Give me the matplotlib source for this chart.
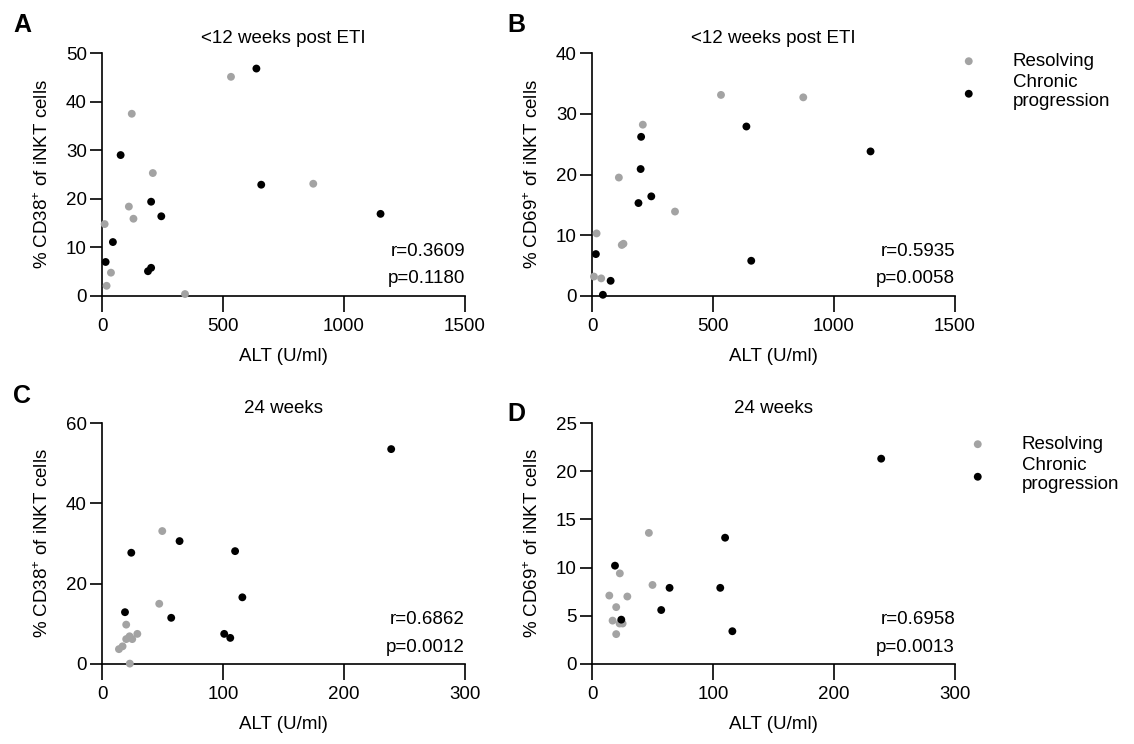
import numpy as np
import matplotlib.pyplot as plt

plt.rcParams['font.family'] = ['Liberation Sans', 'DejaVu Sans']
plt.rcParams['mathtext.fontset'] = 'custom'
plt.rcParams['mathtext.rm'] = 'Liberation Sans'
plt.rcParams['mathtext.it'] = 'Liberation Sans:italic'
plt.rcParams['mathtext.bf'] = 'Liberation Sans:bold'

# data
# <12 weeks post ETI
a_res_x = [533, 123, 210, 873, 111, 130, 11, 37, 19, 343]
a_res_y = [45.1, 37.5, 25.3, 23.1, 18.4, 15.9, 14.8, 4.8, 2.1, 0.4]
a_chr_x = [638, 77, 658, 203, 245, 1151, 45, 15, 203, 190]
a_chr_y = [46.8, 29.0, 22.9, 19.4, 16.4, 16.9, 11.1, 7.0, 5.8, 5.1]

b_res_x = [533, 873, 210, 111, 343, 19, 123, 130, 8, 38]
b_res_y = [33.1, 32.7, 28.2, 19.5, 13.9, 10.3, 8.4, 8.6, 3.2, 2.9]
b_chr_x = [638, 203, 201, 245, 192, 1151, 16, 658, 77, 45]
b_chr_y = [27.9, 26.2, 20.9, 16.4, 15.3, 23.8, 6.9, 5.8, 2.5, 0.2]

# 24 weeks
c_res_x = [49.8, 47.3, 20, 29.2, 25, 20, 22.8, 17, 14, 23]
c_res_y = [33.1, 15.0, 9.8, 7.5, 6.2, 6.2, 6.9, 4.4, 3.7, 0.1]
c_chr_x = [239, 24.2, 64.1, 110, 116, 19, 57.2, 101, 106]
c_chr_y = [53.5, 27.7, 30.6, 28.1, 16.6, 12.9, 11.5, 7.5, 6.5]

d_res_x = [47, 23, 50, 14.3, 29.2, 20, 17, 22.8, 25.3, 20]
d_res_y = [13.6, 9.4, 8.2, 7.1, 7.0, 5.9, 4.5, 4.2, 4.2, 3.1]
d_chr_x = [239, 110, 19, 64.1, 106, 57.2, 24.2, 116]
d_chr_y = [21.3, 13.1, 10.2, 7.9, 7.9, 5.6, 4.6, 3.4]

r_text = ['r=0.3609', 'r=0.5935', 'r=0.6862', 'r=0.6958']
p_text = ['p=0.1180', 'p=0.0058', 'p=0.0012', 'p=0.0013']
titles = ['<12 weeks post ETI', '<12 weeks post ETI', '24 weeks', '24 weeks']
ylabels = ['% CD38$^{+}$ of iNKT cells', '% CD69$^{+}$ of iNKT cells',
           '% CD38$^{+}$ of iNKT cells', '% CD69$^{+}$ of iNKT cells']
letters = ['A', 'B', 'C', 'D']
xlims = [1500, 1500, 300, 300]
ylims = [50, 40, 60, 25]
ysteps = [10, 10, 20, 5]
xsteps = [500, 500, 100, 100]

gray = '#a3a3a3'
fs = 13.5

fig = plt.figure(figsize=(11.34, 7.44), dpi=100)
W, H = 1134, 744
boxes = [(102, 53, 465, 296), (592, 53, 955, 296),
         (102, 423, 465, 664), (592, 423, 955, 664)]
letter_pos = [(13, 13), (507, 13), (13, 384), (507, 402)]
axes = []
for (l, t, r, b) in boxes:
    axes.append(fig.add_axes([l / W, 1 - b / H, (r - l) / W, (b - t) / H]))

series = [(a_res_x, a_res_y, a_chr_x, a_chr_y),
          (b_res_x, b_res_y, b_chr_x, b_chr_y),
          (c_res_x, c_res_y, c_chr_x, c_chr_y),
          (d_res_x, d_res_y, d_chr_x, d_chr_y)]

for i, ax in enumerate(axes):
    rx, ry, cx, cy = series[i]
    ax.scatter(rx, ry, s=32, color=gray, edgecolors='none', clip_on=False,
               zorder=3, label='Resolving')
    ax.scatter(cx, cy, s=32, color='black', edgecolors='none', clip_on=False,
               zorder=3, label='Chronic\nprogression')
    ax.set_xlim(0, xlims[i])
    ax.set_ylim(0, ylims[i])
    ax.set_xticks(np.arange(0, xlims[i] + 1, xsteps[i]))
    ax.set_yticks(np.arange(0, ylims[i] + 1, ysteps[i]))
    for s in ['top', 'right']:
        ax.spines[s].set_visible(False)
    for s in ['left', 'bottom']:
        ax.spines[s].set_linewidth(1.2)
    ax.tick_params(axis='x', length=11.5, width=1.2, labelsize=fs, pad=4)
    ax.tick_params(axis='y', length=9, width=1.2, labelsize=fs, pad=2)
    ax.set_xlabel('ALT (U/ml)', fontsize=fs, labelpad=10)
    ax.set_ylabel(ylabels[i], fontsize=fs, labelpad=10)
    ax.set_title(titles[i], fontsize=fs, pad=7)
    ax.text(1.0, 0.185, r_text[i], transform=ax.transAxes,
            ha='right', va='center', fontsize=fs)
    ax.text(1.0, 0.07, p_text[i], transform=ax.transAxes,
            ha='right', va='center', fontsize=fs)

for (lx, ly), letter in zip(letter_pos, letters):
    fig.text(lx / W, 1 - ly / H, letter, fontsize=18, fontweight='bold',
             va='top', ha='left')

for ax, (lx, ty) in [(axes[1], (950, 53)), (axes[3], (959, 436))]:
    ax.legend(loc='upper left', bbox_to_anchor=(lx / W, 1 - ty / H),
              bbox_transform=fig.transFigure, frameon=False, fontsize=fs,
              borderpad=0, borderaxespad=0, handlelength=2,
              handletextpad=1.35, labelspacing=0.2, scatterpoints=1)

fig.savefig('out.png', dpi=100)
